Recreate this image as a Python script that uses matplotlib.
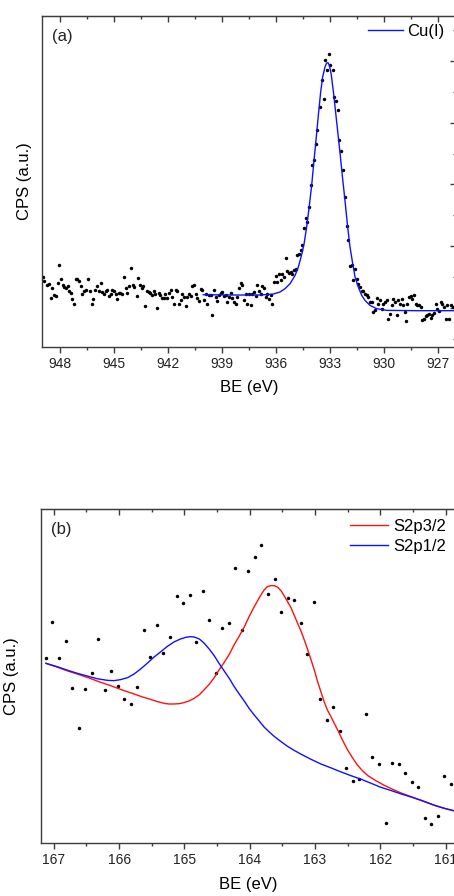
import numpy as np
import matplotlib.pyplot as plt
from matplotlib.ticker import MultipleLocator, FormatStrFormatter

plt.rcParams['font.family'] = ['Liberation Sans', 'DejaVu Sans']

# ---- (a) Cu 2p3/2 : measured points ----
be_a = [948.96, 948.87, 948.74, 948.61, 948.52, 948.43, 948.33, 948.22, 948.13, 948.04,
        947.94, 947.85, 947.76, 947.67, 947.57, 947.50, 947.41, 947.33, 947.24, 947.13,
        947.04, 946.94, 946.85, 946.76, 946.67, 946.57, 946.46, 946.35, 946.24, 946.15,
        946.06, 945.96, 945.85, 945.74, 945.65, 945.56, 945.46, 945.37, 945.28, 945.19,
        945.09, 945.00, 944.91, 944.83, 944.74, 944.65, 944.54, 944.44, 944.35, 944.26,
        944.17, 944.06, 943.96, 943.87, 943.74, 943.65, 943.56, 943.46, 943.37, 943.26,
        943.17, 943.07, 942.98, 942.89, 942.80, 942.70, 942.63, 942.52, 942.43, 942.33,
        942.24, 942.15, 942.06, 941.94, 941.85, 941.76, 941.67, 941.57, 941.48, 941.39,
        941.30, 941.20, 941.11, 941.02, 940.93, 940.83, 940.74, 940.65, 940.56, 940.46,
        940.37, 940.28, 940.17, 940.09, 940.00, 939.91, 939.81, 939.72, 939.63, 939.54,
        939.44, 939.35, 939.26, 939.17, 939.07, 938.98, 938.89, 938.80, 938.70, 938.61,
        938.52, 938.43, 938.33, 938.24, 938.15, 938.06, 937.96, 937.87, 937.78, 937.69,
        937.59, 937.50, 937.41, 937.31, 937.22, 937.13, 937.06, 936.94, 936.85, 936.76,
        936.67, 936.57, 936.48, 936.39, 936.30, 936.20, 936.11, 936.02, 935.93, 935.83,
        935.74, 935.65, 935.56, 935.46, 935.37, 935.28, 935.19, 935.09, 935.00, 934.91,
        934.81, 934.72, 934.63, 934.54, 934.44, 934.35, 934.26, 934.17, 934.07, 933.98,
        933.89, 933.80, 933.70, 933.57, 933.46, 933.35, 933.28, 933.17, 933.07, 932.98,
        932.85, 932.76, 932.65, 932.56, 932.48, 932.39, 932.28, 932.19, 932.07, 931.98,
        931.89, 931.80, 931.70, 931.61, 931.52, 931.43, 931.33, 931.24, 931.15, 931.06,
        930.96, 930.87, 930.78, 930.69, 930.59, 930.50, 930.41, 930.31, 930.22, 930.13,
        930.04, 929.94, 929.85, 929.76, 929.67, 929.57, 929.48, 929.39, 929.30, 929.20,
        929.11, 929.02, 928.93, 928.83, 928.78, 928.70, 928.59, 928.50, 928.43, 928.33,
        928.24, 928.15, 928.06, 927.96, 927.87, 927.78, 927.69, 927.59, 927.50, 927.41,
        927.33, 927.24, 927.13, 927.04, 926.94, 926.85, 926.76, 926.67, 926.57, 926.48,
        926.39, 926.30, 926.19]
cps_a = [21.0, 19.7, 18.7, 19.0, 14.8, 17.8, 15.7, 15.3, 19.2, 24.5,
         20.3, 18.5, 18.0, 17.8, 18.4, 16.8, 16.3, 14.3, 12.8, 20.4,
         20.3, 19.7, 18.3, 15.8, 16.8, 17.0, 20.5, 16.9, 12.8, 14.4,
         17.0, 18.2, 16.8, 19.2, 16.5, 16.0, 16.8, 17.0, 15.4, 16.0,
         17.0, 16.8, 15.8, 14.3, 16.3, 16.2, 15.8, 21.0, 17.6, 16.2,
         18.2, 23.8, 18.5, 18.0, 15.4, 20.8, 18.5, 17.8, 18.3, 12.2,
         16.7, 16.5, 16.3, 15.5, 16.8, 16.0, 11.8, 16.1, 15.5, 14.7,
         14.7, 15.8, 14.8, 16.2, 17.0, 15.0, 13.0, 17.2, 16.7, 13.0,
         14.0, 15.8, 15.0, 12.4, 15.0, 15.8, 15.4, 18.2, 18.5, 16.0,
         14.8, 13.7, 17.4, 17.2, 14.2, 16.0, 13.0, 15.6, 15.5, 9.7,
         17.2, 15.0, 13.8, 15.5, 16.2, 16.4, 15.2, 15.5, 13.5, 15.0,
         16.2, 14.8, 13.5, 13.0, 15.0, 17.8, 19.2, 18.5, 14.2, 16.0,
         12.8, 16.0, 12.5, 16.0, 16.4, 15.2, 18.5, 16.7, 16.0, 18.2,
         17.8, 15.0, 16.0, 14.5, 15.5, 13.0, 19.5, 21.2, 19.5, 21.8,
         20.2, 22.0, 21.0, 26.8, 22.8, 22.2, 22.5, 22.0, 23.0, 23.5,
         27.5, 28.0, 29.2, 30.7, 35.8, 38.8, 37.5, 42.0, 48.5, 54.5,
         56.0, 61.0, 65.0, 72.0, 80.0, 74.3, 86.2, 83.2, 88.0, 84.5,
         83.2, 75.0, 73.7, 71.0, 62.0, 58.8, 53.0, 45.0, 36.3, 32.0,
         24.3, 24.7, 20.0, 23.5, 20.5, 19.0, 18.0, 16.8, 16.8, 16.0,
         15.5, 15.0, 13.5, 13.5, 10.5, 11.0, 14.8, 13.0, 14.0, 11.5,
         13.0, 13.5, 14.2, 8.3, 9.8, 12.5, 14.5, 13.5, 9.5, 14.0,
         13.0, 14.5, 12.5, 10.5, 7.8, 12.8, 15.0, 15.2, 14.5, 15.5,
         12.8, 12.5, 12.5, 12.0, 8.0, 8.5, 9.2, 9.5, 10.0, 8.8,
         9.5, 10.2, 12.8, 11.5, 10.8, 13.5, 12.8, 12.0, 8.5, 12.5,
         8.5, 12.5, 12.0]

# ---- (a) fitted Cu(I) component ----
fit_be_a = [940.04, 938.37, 936.89, 936.15, 935.78, 935.50, 935.22, 934.94, 934.76, 934.57,
            934.44, 934.30, 934.17, 934.02, 933.89, 933.78, 933.65, 933.52, 933.41, 933.28,
            933.19, 933.11, 933.04, 932.94, 932.81, 932.69, 932.56, 932.44, 932.31, 932.17,
            932.02, 931.89, 931.74, 931.61, 931.43, 931.24, 931.06, 930.78, 930.41, 929.85,
            928.19, 926.00]
fit_cps_a = [15.7, 15.6, 15.6, 15.9, 16.5, 17.5, 19.0, 21.5, 24.0, 27.8,
             31.0, 36.0, 41.5, 48.5, 56.0, 62.0, 69.5, 76.5, 81.0, 84.0,
             85.2, 85.3, 84.5, 82.0, 76.5, 70.5, 64.0, 58.0, 51.0, 44.0,
             36.0, 30.0, 25.0, 21.0, 18.0, 15.5, 14.0, 12.5, 11.5, 11.0,
             10.9, 10.9]

# ---- (b) S 2p : measured points ----
be_b = [167.12, 167.02, 166.92, 166.82, 166.72, 166.62, 166.52, 166.42, 166.32, 166.22,
        166.12, 166.02, 165.92, 165.82, 165.72, 165.62, 165.52, 165.42, 165.32, 165.22,
        165.12, 165.02, 164.92, 164.82, 164.72, 164.62, 164.52, 164.42, 164.32, 164.22,
        164.12, 164.02, 163.92, 163.82, 163.72, 163.62, 163.52, 163.42, 163.32, 163.22,
        163.12, 163.02, 162.92, 162.82, 162.72, 162.62, 162.52, 162.42, 162.32, 162.22,
        162.12, 162.02, 161.92, 161.82, 161.72, 161.62, 161.52, 161.42, 161.32, 161.22,
        161.12, 161.02, 160.92, 160.84]
cps_b = [55.7, 66.4, 55.7, 60.8, 46.5, 34.7, 46.3, 51.1, 61.2, 45.9,
         51.8, 47.1, 43.2, 41.7, 46.8, 64.0, 55.9, 65.5, 57.2, 61.9,
         74.3, 72.2, 74.5, 60.5, 75.8, 67.1, 51.2, 64.5, 66.0, 82.6,
         64.0, 81.8, 85.9, 89.4, 74.7, 79.3, 69.5, 73.5, 73.0, 66.2,
         56.7, 72.5, 43.2, 37.1, 41.0, 33.7, 22.7, 18.8, 19.4, 38.7,
         26.0, 23.7, 6.1, 24.2, 23.7, 21.2, 18.5, 17.0, 7.6, 5.9,
         8.3, 20.3, 17.9, 7.5]

# ---- (b) fitted components ----
fit_be_32 = [167.12, 166.97, 166.80, 166.64, 166.49, 166.31, 166.13, 165.95, 165.77, 165.64,
             165.52, 165.41, 165.31, 165.24, 165.16, 165.08, 165.01, 164.93, 164.85, 164.77,
             164.70, 164.62, 164.54, 164.47, 164.39, 164.31, 164.24, 164.16, 164.08, 164.01,
             163.93, 163.85, 163.78, 163.73, 163.68, 163.62, 163.57, 163.52, 163.47, 163.42,
             163.37, 163.32, 163.27, 163.21, 163.16, 163.11, 163.06, 163.01, 162.96, 162.91,
             162.86, 162.81, 162.75, 162.70, 162.64, 162.58, 162.50, 162.42, 162.35, 162.27,
             162.19, 162.06, 161.94, 161.81, 161.68, 161.53, 161.37, 161.17, 161.02, 160.80]
fit_cps_32 = [54.0, 53.0, 51.8, 50.8, 49.8, 48.5, 47.3, 46.0, 44.8, 43.9,
              43.2, 42.5, 42.0, 41.8, 41.8, 41.9, 42.2, 42.7, 43.5, 44.6,
              46.0, 47.7, 49.8, 52.0, 54.3, 56.8, 59.5, 62.2, 65.0, 68.0,
              71.0, 73.8, 76.0, 77.0, 77.3, 77.3, 76.8, 75.8, 74.2, 72.5,
              70.8, 68.5, 66.2, 63.5, 60.8, 58.0, 55.0, 52.0, 48.5, 45.5,
              42.5, 40.0, 37.8, 35.8, 33.5, 31.0, 28.0, 25.5, 23.5, 21.7,
              20.3, 18.7, 17.4, 16.2, 15.1, 14.0, 12.8, 11.4, 10.5, 9.4]
fit_be_12 = [167.12, 166.95, 166.80, 166.64, 166.49, 166.34, 166.18, 166.08, 165.98, 165.87,
             165.77, 165.67, 165.57, 165.47, 165.36, 165.26, 165.16, 165.06, 164.98, 164.91,
             164.85, 164.77, 164.70, 164.62, 164.54, 164.47, 164.39, 164.31, 164.24, 164.16,
             164.08, 164.01, 163.93, 163.85, 163.78, 163.70, 163.62, 163.52, 163.42, 163.32,
             163.21, 163.06, 162.91, 162.75, 162.60, 162.45, 162.29, 162.14, 161.99, 161.83,
             161.68, 161.53, 161.37, 161.17, 161.02, 160.80]
fit_cps_12 = [54.0, 53.0, 52.0, 51.0, 50.2, 49.4, 48.9, 48.8, 49.1, 49.7,
              50.8, 52.3, 54.0, 55.8, 57.5, 59.1, 60.4, 61.3, 61.8, 62.0,
              61.9, 61.3, 60.1, 58.3, 56.2, 54.0, 51.7, 49.4, 47.1, 44.8,
              42.6, 40.5, 38.5, 36.6, 34.9, 33.4, 32.0, 30.5, 29.1, 27.9,
              26.7, 25.2, 23.8, 22.6, 21.4, 20.3, 19.2, 18.0, 16.8, 15.8,
              14.8, 13.9, 12.9, 11.4, 10.5, 9.4]

spine_col = '#3c3c3c'

fig = plt.figure(figsize=(4.54, 8.96), dpi=100)
ax1 = fig.add_axes([0.0925, 0.6127, 0.912, 0.3694])
ax2 = fig.add_axes([0.0897, 0.0588, 0.9148, 0.3731])


def style_axes(ax, major, minor):
    for s in ax.spines.values():
        s.set_color(spine_col)
        s.set_linewidth(1.0)
    ax.xaxis.set_major_locator(MultipleLocator(major))
    ax.xaxis.set_minor_locator(MultipleLocator(minor))
    ax.xaxis.set_major_formatter(FormatStrFormatter('%g'))
    ax.tick_params(axis='x', which='major', direction='out', length=4, width=1,
                   color=spine_col, labelsize=10, pad=3, labelcolor='#222222')
    ax.tick_params(axis='x', which='minor', direction='out', length=2.5, width=1,
                   color=spine_col)
    top = ax.secondary_xaxis('top')
    top.xaxis.set_major_locator(MultipleLocator(major))
    top.xaxis.set_minor_locator(MultipleLocator(minor))
    top.tick_params(which='major', direction='in', length=4, width=1,
                    color=spine_col, labeltop=False)
    top.tick_params(which='minor', direction='in', length=2.5, width=1,
                    color=spine_col)
    top.spines['top'].set_color(spine_col)
    ax.set_xlabel('BE (eV)', fontsize=12, labelpad=7)


# panel (a)
ax1.plot(be_a, cps_a, 'o', color='black', markersize=2.5, markeredgewidth=0)
ax1.plot(fit_be_a, fit_cps_a, color='#1010ff', linewidth=1.0, label='Cu(I)')
ax1.set_xlim(949.0, 926.0)
ax1.set_ylim(0, 99.3)
style_axes(ax1, 3, 1.5)
ax1.yaxis.set_ticks_position('right')
ax1.yaxis.set_major_locator(MultipleLocator(18.5, offset=11.8))
ax1.yaxis.set_minor_locator(MultipleLocator(9.25, offset=2.55))
ax1.tick_params(axis='y', which='major', direction='in', length=4, width=1,
                color=spine_col, labelright=False, left=False)
ax1.tick_params(axis='y', which='minor', direction='in', length=2.5, width=1,
                color=spine_col, labelright=False, left=False)
ax1.set_ylabel('CPS (a.u.)', fontsize=12, labelpad=7)
ax1.yaxis.set_label_position('left')
ax1.text(0.024, 0.937, '(a)', transform=ax1.transAxes, fontsize=12,
         va='center', ha='left', color='#222222')
ax1.legend(loc='upper right', bbox_to_anchor=(0.973, 0.975), frameon=False,
           fontsize=12, handlelength=2.1, handletextpad=0.3, borderpad=0,
           borderaxespad=0)

# panel (b)
ax2.plot(be_b, cps_b, 'o', color='black', markersize=2.5, markeredgewidth=0)
ax2.plot(fit_be_32, fit_cps_32, color='#ff1010', linewidth=1.0, label='S2p3/2')
ax2.plot(fit_be_12, fit_cps_12, color='#1010ff', linewidth=1.0, label='S2p1/2')
ax2.set_xlim(167.2, 160.84)
ax2.set_ylim(0, 100.3)
style_axes(ax2, 1, 0.5)
ax2.tick_params(axis='y', which='both', left=False, right=False,
                labelleft=False, labelright=False)
ax2.set_ylabel('CPS (a.u.)', fontsize=12, labelpad=16)
ax2.text(0.025, 0.938, '(b)', transform=ax2.transAxes, fontsize=12,
         va='center', ha='left', color='#222222')
ax2.legend(loc='upper right', bbox_to_anchor=(0.976, 0.97), frameon=False,
           fontsize=12, handlelength=2.3, handletextpad=0.3, borderpad=0,
           borderaxespad=0, labelspacing=0.3)

fig.savefig('out.png', dpi=100)
